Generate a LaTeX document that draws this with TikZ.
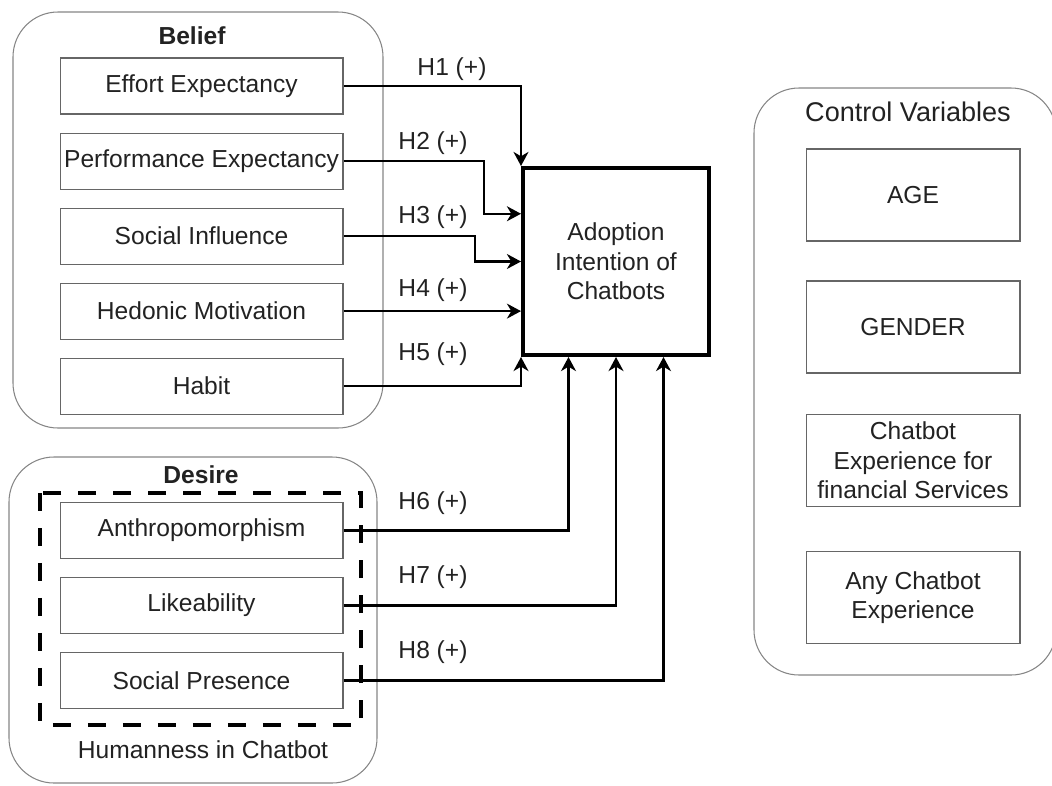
\documentclass[tikz,border=0pt]{standalone}
\usepackage{fontspec}
\setmainfont{Liberation Sans}
\usetikzlibrary{arrows.meta,calc,positioning}

\definecolor{boxgray}{HTML}{666666}
\definecolor{framegray}{HTML}{858585}
\definecolor{txt}{HTML}{222222}

\begin{document}
\begin{tikzpicture}[x=0.02cm,y=-0.02cm,
	font=\fontsize{14}{16.8}\selectfont,
	node distance=0.36cm,
	factor/.style={draw=boxgray,line width=0.6pt,minimum width=5.66cm,minimum height=1.12cm,inner sep=0pt,text=txt},
	ctrl/.style={draw=boxgray,line width=0.6pt,minimum width=4.28cm,minimum height=1.84cm,inner sep=0pt,align=center,text=txt},
	group/.style={draw=framegray,line width=0.6pt,rounded corners=0.9cm},
	hyp/.style={line width=1.3pt,-{Stealth[length=8pt,width=8.5pt,inset=2.5pt]}},
	hlab/.style={text=txt}]
	
	\useasboundingbox (0,0) rectangle (1052,785);
	
	% outer groups
	\draw[group] (13,12) rectangle (383,428);
	\draw[group] (9,457) rectangle (377,783);
	\draw[group] (754,88) rectangle (1056,675);
	\draw[line width=2.3pt,dash pattern=on 0.36cm off 0.34cm] (40,493) rectangle (361,725);
	
	\node[font=\fontsize{14}{16.8}\selectfont\bfseries,text=txt] (belief) at (192,36) {Belief};
	\node[font=\fontsize{14}{16.8}\selectfont\bfseries,text=txt] (desire) at (201,475) {Desire};
	\node[text=txt] (human) at (203,750) {Humanness in Chatbot};
	\node[font=\fontsize{15.4}{18}\selectfont,text=txt] (control) at (908,112) {Control Variables};
	
	% belief factors
	\node[factor] (ee) at (201.5,86) {Effort Expectancy};
	\node[factor,below=of ee] (pe) {Performance Expectancy};
	\node[factor,below=of pe] (si) {Social Influence};
	\node[factor,below=of si] (hm) {Hedonic Motivation};
	\node[factor,below=of hm] (hb) {Habit};
	
	% desire factors
	\node[factor] (an) at (201.5,530.5) {Anthropomorphism};
	\node[factor,below=of an] (lk) {Likeability};
	\node[factor,below=of lk] (sp) {Social Presence};
	
	% control variables
	\node[ctrl] (age) at (913,195) {AGE};
	\node[ctrl] (gender) at (913,327) {GENDER};
	\node[ctrl] (cef) at (913,460.5) {Chatbot\\Experience for\\financial Services};
	\node[ctrl] (ace) at (913,597.5) {Any Chatbot\\Experience};
	
	% dependent variable
	\node[draw,line width=2.3pt,minimum width=3.72cm,minimum height=3.74cm,align=center,text=txt] (adopt) at (616,261.5) {Adoption\\Intention of\\Chatbots};
	
	\coordinate (t2) at ($(adopt.north west)!0.25!(adopt.south west)$);
	\coordinate (b1) at ($(adopt.south west)!0.25!(adopt.south east)$);
	\coordinate (b2) at (adopt.south);
	\coordinate (b3) at ($(adopt.south west)!0.75!(adopt.south east)$);
	
	% hypotheses
	\draw[hyp] (ee.east) -| (adopt.north west);
	\draw[hyp] (pe.east) -| ([xshift=-0.74cm]t2) -- (t2);
	\draw[hyp] (si.east) -| ([xshift=-0.92cm]adopt.west) -- (adopt.west);
	\draw[hyp] (hm.east) -- (hm.east -| adopt.west);
	\draw[hyp] (hb.east) -| (adopt.south west);
	\draw[hyp] (an.east) -| (b1);
	\draw[hyp] (lk.east) -| (b2);
	\draw[hyp] (sp.east) -| (b3);
	
	\node[hlab] (h1) at (452,69) {H1 (+)};
	\node[hlab] (h2) at (433,143) {H2 (+)};
	\node[hlab] (h3) at (433,217) {H3 (+)};
	\node[hlab] (h4) at (433,290) {H4 (+)};
	\node[hlab] (h5) at (433,354) {H5 (+)};
	\node[hlab] (h6) at (433,503) {H6 (+)};
	\node[hlab] (h7) at (433,577) {H7 (+)};
	\node[hlab] (h8) at (433,652) {H8 (+)};
	
\end{tikzpicture}
\end{document}
